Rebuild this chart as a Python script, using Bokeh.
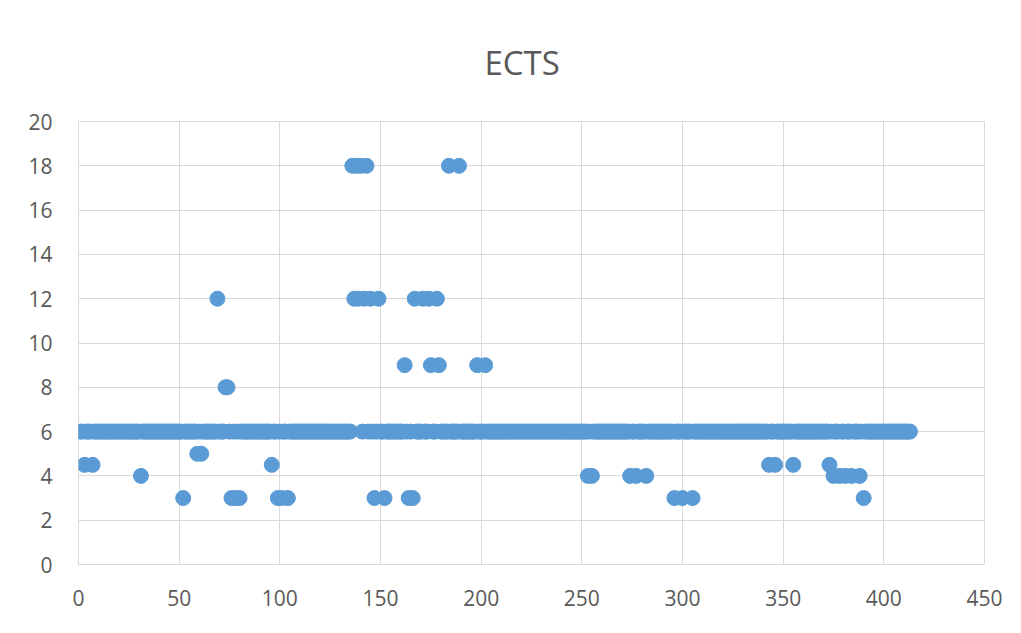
from bokeh.plotting import figure
from bokeh.models import Range1d, SingleIntervalTicker, ColumnDataSource
from bokeh.embed import file_html
from bokeh.resources import INLINE

# ---- data ----
# course index runs 1..413; every course not listed below has 6 ECTS
n_courses = 413
default_ects = 6
outlier_idx = [3, 7, 31, 52, 59, 61, 69, 73, 74, 76, 78, 80, 96, 99, 101, 104,
               136, 138, 140, 143, 137, 139, 142, 145, 149, 147, 152, 162, 164, 166,
               167, 171, 174, 178, 175, 179, 184, 189, 198, 202,
               253, 255, 274, 277, 282, 296, 300, 305,
               343, 346, 355, 373, 375, 378, 381, 384, 388, 390]
outlier_ects = [4.5, 4.5, 4, 3, 5, 5, 12, 8, 8, 3, 3, 3, 4.5, 3, 3, 3,
                18, 18, 18, 18, 12, 12, 12, 12, 12, 3, 3, 9, 3, 3,
                12, 12, 12, 12, 9, 9, 18, 18, 9, 9,
                4, 4, 4, 4, 4, 3, 3, 3,
                4.5, 4.5, 4.5, 4.5, 4, 4, 4, 4, 4, 3]
x_ticks = [0, 50, 100, 150, 200, 250, 300, 350, 400, 450]
y_ticks = [0, 2, 4, 6, 8, 10, 12, 14, 16, 18, 20]

lookup = dict(zip(outlier_idx, outlier_ects))
xs = list(range(1, n_courses + 1))
ys = [lookup.get(i, default_ects) for i in xs]
src = ColumnDataSource(dict(x=xs, y=ys))

FONT = "Open Sans"
TXT = "#595959"
GRID = "#d9d9d9"

p = figure(width=1005, height=617, output_backend="svg", toolbar_location=None,
           x_range=Range1d(x_ticks[0], x_ticks[-1]), y_range=Range1d(y_ticks[0], y_ticks[-1]),
           min_border_left=78, min_border_right=21, min_border_top=121, min_border_bottom=53,
           title="ECTS")
p.title.align = "left"
p.title.offset = 406
p.title.text_font = FONT
p.title.text_font_size = "33px"
p.title.text_font_style = "normal"
p.title.text_color = TXT
p.title.standoff = 73

p.scatter("x", "y", source=src, size=15, fill_color="#5B9BD5", line_color="#5B9BD5")

p.xaxis.ticker = SingleIntervalTicker(interval=50)
p.yaxis.ticker = SingleIntervalTicker(interval=2)
for ax in (p.xaxis[0], p.yaxis[0]):
    ax.axis_line_color = None
    ax.major_tick_line_color = None
    ax.minor_tick_line_color = None
    ax.major_label_text_font = FONT
    ax.major_label_text_font_size = "21px"
    ax.major_label_text_color = TXT
p.xaxis.major_label_standoff = 19
p.yaxis.major_label_standoff = 20

p.xgrid.grid_line_color = GRID
p.ygrid.grid_line_color = GRID
p.outline_line_color = GRID
p.background_fill_color = "white"
p.border_fill_color = "white"

open("out.html", "w").write(file_html(p, INLINE))
